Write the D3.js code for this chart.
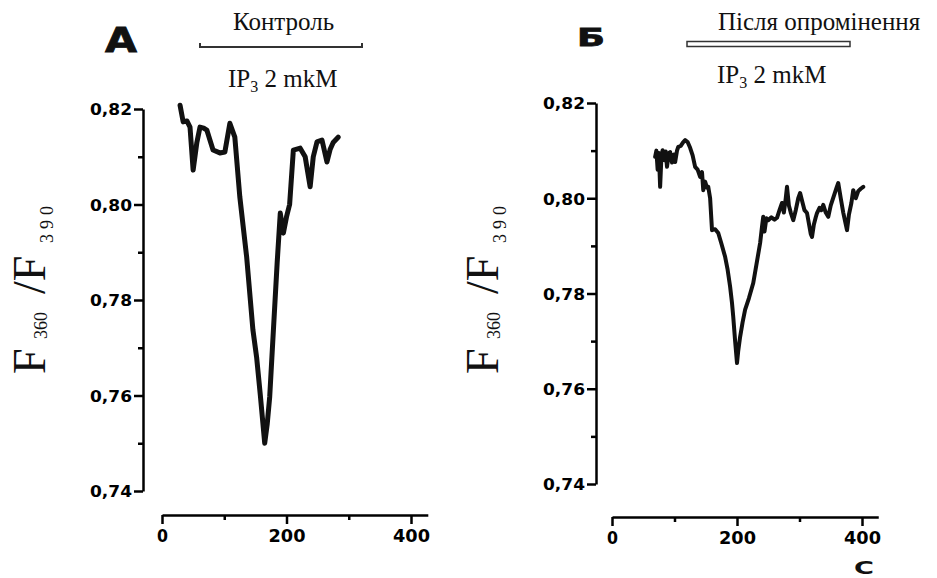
<!DOCTYPE html>
<html>
<head>
<meta charset="utf-8">
<script src="https://cdn.jsdelivr.net/npm/d3@7"></script>
<style>
  body { margin: 0; background: #fff; }
  svg { display: block; }
  .tick text { font-family: "DejaVu Sans", sans-serif; font-weight: bold; fill: #000; }
</style>
</head>
<body>
<div id="chart"></div>
<script>
// ---- data ----
const xTicks = [0, 200, 400];
const xMinorTicks = [100, 300];
const yTicks = [0.74, 0.76, 0.78, 0.80, 0.82];
const yMinorTicks = [0.75, 0.77, 0.79, 0.81];

// A: control
const controlTime = [29, 34, 40, 45, 50, 56, 61, 67, 72, 82,
  93, 101, 109, 117, 125, 136, 146, 152, 158, 165,
  169, 173, 179, 185, 190, 195, 200, 205, 211, 222,
  230, 238, 243, 249, 257, 265, 270, 275, 283];
const controlRatio = [0.8208, 0.8173, 0.8175, 0.8162, 0.8072, 0.8130, 0.8162, 0.8160, 0.8156, 0.8114,
  0.8108, 0.8110, 0.8170, 0.8141, 0.8016, 0.7890, 0.7738, 0.7680, 0.7600, 0.7500,
  0.7540, 0.7597, 0.7738, 0.7878, 0.7982, 0.7940, 0.7974, 0.8000, 0.8114, 0.8118,
  0.8100, 0.8037, 0.8100, 0.8131, 0.8135, 0.8089, 0.8115, 0.8130, 0.8141];

// Б: after irradiation
const irradTime = [69, 71, 73, 75, 77, 79, 81, 84, 86, 88,
  91, 93, 96, 99, 101, 104, 106, 110, 114, 117,
  121, 125, 129, 133, 137, 141, 144, 146, 149, 152,
  154, 157, 160, 165, 170, 175, 181, 185, 189, 192,
  194, 197, 200, 202, 205, 209, 213, 219, 226, 231,
  237, 240, 242, 244, 247, 250, 255, 260, 264, 268,
  272, 275, 278, 280, 283, 286, 290, 294, 298, 301,
  305, 308, 312, 316, 318, 320, 323, 326, 328, 332,
  335, 338, 342, 346, 350, 355, 360, 362, 366, 370,
  374, 376, 379, 383, 386, 390, 394, 398, 402];
const irradRatio = [0.8087, 0.8100, 0.8060, 0.8095, 0.8024, 0.8085, 0.8101, 0.8080, 0.8098, 0.8066,
  0.8095, 0.8097, 0.8075, 0.8092, 0.8076, 0.8100, 0.8108, 0.8110, 0.8118, 0.8122,
  0.8118, 0.8106, 0.8090, 0.8066, 0.8060, 0.8045, 0.8055, 0.8017, 0.8035, 0.8022,
  0.8024, 0.8000, 0.7933, 0.7935, 0.7927, 0.7905, 0.7877, 0.7850, 0.7814, 0.7780,
  0.7751, 0.7700, 0.7654, 0.7680, 0.7709, 0.7740, 0.7766, 0.7790, 0.7822, 0.7860,
  0.7906, 0.7940, 0.7961, 0.7930, 0.7958, 0.7954, 0.7960, 0.7955, 0.7959, 0.7975,
  0.7990, 0.7970, 0.8000, 0.8024, 0.7985, 0.7970, 0.7954, 0.7975, 0.8000, 0.8011,
  0.7990, 0.7975, 0.7969, 0.7940, 0.7925, 0.7919, 0.7945, 0.7960, 0.7969, 0.7980,
  0.7975, 0.7986, 0.7970, 0.7961, 0.7985, 0.8005, 0.8025, 0.8032, 0.8000, 0.7970,
  0.7945, 0.7933, 0.7965, 0.7990, 0.8017, 0.8000, 0.8015, 0.8020, 0.8024];

const width = 937, height = 578;
const svg = d3.select("#chart").append("svg")
  .attr("width", width).attr("height", height);

const fmt = d => d.toFixed(2).replace(".", ",");
const serif = "Liberation Serif, Times New Roman, serif";

function drawPanel(p) {
  const x = d3.scaleLinear().domain([0, p.xEnd]).range([p.x0, p.x0 + p.xEnd * p.xScale]);
  const y = d3.scaleLinear().domain([0.74, 0.82]).range([p.yBottom, p.yTop]);
  const g = svg.append("g");

  // y axis
  const ya = g.append("g").attr("transform", `translate(${p.yAxisX},0)`)
    .call(d3.axisLeft(y).tickValues(yTicks).tickFormat(fmt).tickSize(9).tickSizeOuter(0).tickPadding(2));
  g.append("g").attr("transform", `translate(${p.yAxisX},0)`)
    .call(d3.axisLeft(y).tickValues(yMinorTicks).tickFormat("").tickSize(5).tickSizeOuter(0))
    .select(".domain").remove();
  ya.selectAll("text").style("font-size", "16px").attr("dy", "0.36em")
    .attr("textLength", 42).attr("lengthAdjust", "spacingAndGlyphs");

  // x axis
  const xa = g.append("g").attr("transform", `translate(0,${p.xAxisY})`)
    .call(d3.axisBottom(x).tickValues(xTicks).tickSize(9).tickSizeOuter(0).tickPadding(6));
  g.append("g").attr("transform", `translate(0,${p.xAxisY})`)
    .call(d3.axisBottom(x).tickValues(xMinorTicks).tickFormat("").tickSize(5).tickSizeOuter(0))
    .select(".domain").remove();
  xa.selectAll("text").style("font-size", "17px")
    .attr("textLength", d => d === 0 ? 11 : 37).attr("lengthAdjust", "spacingAndGlyphs");

  g.selectAll(".domain, .tick line").attr("stroke", "#000").attr("stroke-width", 2.5);

  // trace
  g.append("path")
    .datum(d3.zip(p.time, p.ratio))
    .attr("fill", "none")
    .attr("stroke", "#111")
    .attr("stroke-width", p.lineWidth)
    .attr("stroke-linejoin", "round")
    .attr("stroke-linecap", "round")
    .attr("d", d3.line().x(d => x(d[0])).y(d => y(d[1])));

  // y title F360/F390 (rotated; local x runs upward)
  const t = g.append("text")
    .attr("transform", `translate(${p.titleX},${p.titleY}) rotate(-90)`)
    .attr("font-family", serif)
    .attr("fill", "#111");
  t.append("tspan").attr("font-size", 46).attr("x", 0).attr("y", 0).text("F");
  t.append("tspan").attr("font-size", 18).attr("x", 35).attr("y", 2).text("360");
  t.append("tspan").attr("font-size", 46).attr("x", 80).attr("y", 0).text("/F");
  t.append("tspan").attr("font-size", 18).attr("x", 131).attr("y", 8)
    .attr("letter-spacing", 5).text("390");

  // panel letter
  g.append("text").attr("x", p.letterX).attr("y", p.letterY)
    .attr("font-family", "DejaVu Sans, sans-serif").attr("font-weight", "bold")
    .attr("font-size", p.letterSize).attr("fill", "#111")
    .attr("stroke", "#111").attr("stroke-width", 0.8)
    .attr("textLength", p.letterW).attr("lengthAdjust", "spacingAndGlyphs")
    .text(p.letter);

  // condition text
  g.append("text").attr("x", p.condX).attr("y", 30)
    .attr("font-family", serif)
    .attr("font-size", 25).attr("fill", "#111").text(p.cond);

  const ip = g.append("text").attr("x", p.ipX).attr("y", p.ipY)
    .attr("font-family", serif)
    .attr("font-size", 25).attr("fill", "#111");
  ip.append("tspan").text("IP");
  ip.append("tspan").attr("font-size", 16).attr("dy", 5).text("3");
  ip.append("tspan").attr("dy", -5).text(" 2 mkM");

  return { g, x, y };
}

const a = drawPanel({
  x0: 162, xScale: 0.6225, xEnd: 427, xAxisY: 515,
  yAxisX: 143, yTop: 109, yBottom: 491,
  time: controlTime, ratio: controlRatio, lineWidth: 5,
  titleX: 45, titleY: 374,
  letter: "A", letterX: 105, letterY: 52, letterSize: 33, letterW: 32,
  cond: "Контроль", condX: 233, ipX: 228, ipY: 87
});
// application bar: solid line with end ticks
a.g.append("path")
  .attr("d", d3.line()([[200, 43], [200, 47], [362, 47], [362, 43]]))
  .attr("fill", "none").attr("stroke", "#333").attr("stroke-width", 2);

const b = drawPanel({
  x0: 612, xScale: 0.625, xEnd: 426, xAxisY: 517,
  yAxisX: 596, yTop: 103, yBottom: 484,
  time: irradTime, ratio: irradRatio, lineWidth: 4,
  titleX: 498, titleY: 374,
  letter: "Б", letterX: 577, letterY: 46, letterSize: 24, letterW: 28,
  cond: "Після опромінення", condX: 718, ipX: 717, ipY: 83
});
// application bar: hollow bar
b.g.append("rect").attr("x", 687).attr("y", 41.5).attr("width", 163).attr("height", 5)
  .attr("fill", "#fff").attr("stroke", "#333").attr("stroke-width", 1.5);

b.g.append("text").attr("x", 864).attr("y", 574).attr("text-anchor", "middle")
  .attr("font-family", "DejaVu Sans, sans-serif").attr("font-weight", "bold")
  .attr("font-size", 18).attr("fill", "#111")
  .attr("textLength", 20).attr("lengthAdjust", "spacingAndGlyphs").text("C");
</script>
</body>
</html>
